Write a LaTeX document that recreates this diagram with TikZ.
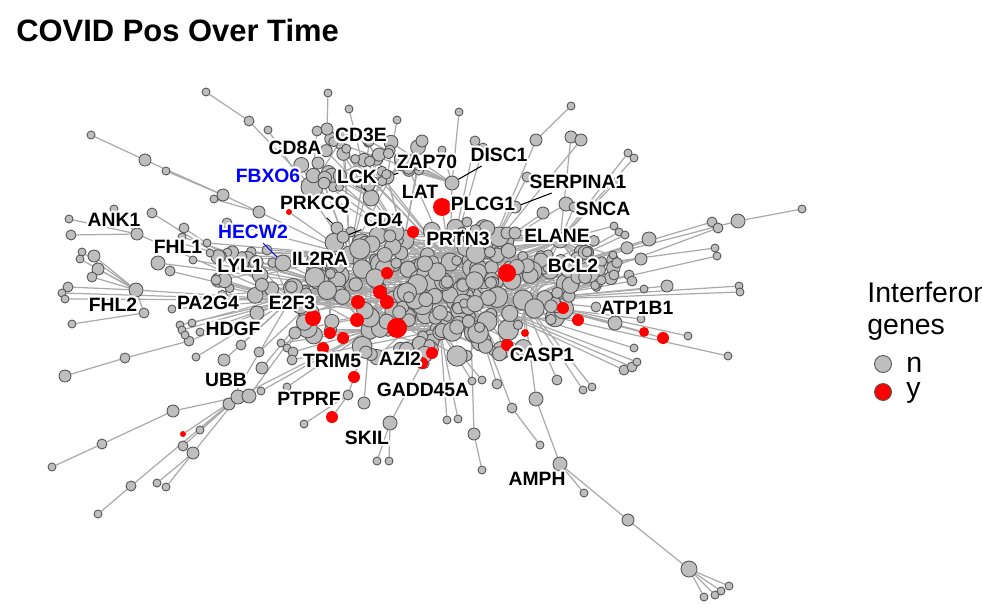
\documentclass[tikz,border=0pt]{standalone}
\usepackage{fontspec}
\setmainfont{Liberation Sans}
\usepackage{contour}
\contourlength{1.2pt}
\usetikzlibrary{backgrounds}
\definecolor{nodegray}{RGB}{190,190,190}
\definecolor{rimgray}{RGB}{85,85,85}
\definecolor{edgegray}{RGB}{170,170,170}
\definecolor{ifnred}{RGB}{255,0,0}
\definecolor{labblue}{RGB}{0,0,255}

\begin{document}
\begin{tikzpicture}[x=0.02cm, y=-0.02cm,
    gnode/.style={circle, draw=rimgray, fill=nodegray, line width=0.5pt, inner sep=0pt},
    rnode/.style={circle, fill=ifnred, inner sep=0pt},
    edge/.style={draw=edgegray, line width=0.7pt},
    lab/.style={font=\bfseries\fontsize{11}{12}\selectfont, inner sep=1pt},
    lead/.style={draw=black, line width=0.6pt},
    legtext/.style={anchor=base west, inner sep=0pt, font=\fontsize{16.2}{18}\selectfont}]
  \useasboundingbox (0,0) rectangle (982,615);
  \pgfmathsetseed{17}
  \def\uphubs{{"h1","h11","fb","lck","zap","disc","h5"}}
  \def\lefthubs{{"h6","h7","h11"}}
  \def\righthubs{{"h9","h4","h12","h3"}}

  % hubs in the core
  \foreach \n/\x/\y/\r in {h1/404/240/10, h2/370/330/9, h3/470/298/12, h4/523/300/10,
      h5/450/262/9, h6/330/285/9, h7/290/300/8, h8/490/250/9, h9/550/270/9,
      h10/440/330/10, h11/350/255/9, h12/560/240/8,
      fb/312/187/11, lck/371/198/8, zap/387/177/7, disc/452/183/7}
    \node[gnode, minimum size=\r*0.4mm] (\n) at (\x,\y) {};

  % dense core
  \foreach \i in {1,...,230}{
    \pgfmathsetmacro\ang{360*rnd}
    \pgfmathsetmacro\rad{rnd^0.65}
    \pgfmathsetmacro\cx{432+148*\rad*cos(\ang)}
    \pgfmathsetmacro\cy{292+72*\rad*sin(\ang)}
    \pgfmathsetmacro\cr{4.5+6*rnd}
    \node[gnode, minimum size=\cr*0.4mm] (c\i) at (\cx,\cy) {};
  }

  % side clusters
  \foreach \i in {1,...,45}{
    \pgfmathsetmacro\ang{360*rnd}
    \pgfmathsetmacro\rad{sqrt(rnd)}
    \pgfmathsetmacro\cx{362+68*\rad*cos(\ang)}
    \pgfmathsetmacro\cy{162+28*\rad*sin(\ang)}
    \pgfmathsetmacro\cr{4+3.5*rnd}
    \node[gnode, minimum size=\cr*0.4mm] (u\i) at (\cx,\cy) {};
  }
  \foreach \i in {1,...,18}{
    \pgfmathsetmacro\ang{360*rnd}
    \pgfmathsetmacro\rad{sqrt(rnd)}
    \pgfmathsetmacro\cx{245+40*\rad*cos(\ang)}
    \pgfmathsetmacro\cy{275+25*\rad*sin(\ang)}
    \pgfmathsetmacro\cr{4+4*rnd}
    \node[gnode, minimum size=\cr*0.4mm] (w\i) at (\cx,\cy) {};
  }
  \foreach \i in {1,...,22}{
    \pgfmathsetmacro\ang{360*rnd}
    \pgfmathsetmacro\rad{sqrt(rnd)}
    \pgfmathsetmacro\cx{605+30*\rad*cos(\ang)}
    \pgfmathsetmacro\cy{268+30*\rad*sin(\ang)}
    \pgfmathsetmacro\cr{4+3*rnd}
    \node[gnode, minimum size=\cr*0.4mm] (v\i) at (\cx,\cy) {};
  }

  % outer nodes: name/x/y/radius/neighbour
  \def\outer{a1/206/92/4/a2, a2/249/121/5/fb, a3/268/130/4/h11, a4/91/135/4/a5, a5/145/160/6/a7,
    a6/166/171/4/a7, a7/223/195/6/a9, a8/214/199/4/a9, a9/259/212/6/h11, a10/318/163/6/fb,
    b1/114/209/4/b5, b2/152/213/5/h7, b3/69/219/4/b5, b4/71/235/5/b5, b5/137/234/6/h7,
    b6/184/228/5/h7, b7/182/237/4/h6, b8/180/243/4/h6, b9/227/223/5/h11, b10/94/256/6/b14,
    b11/82/252/4/b14, b12/80/259/4/b14, b13/98/269/6/b14, b14/136/290/7/h7, b15/92/277/5/b14,
    b16/68/287/5/b14, b17/62/293/4/h7, b18/65/299/4/h7, b19/158/263/7/h6, b20/170/271/5/h7,
    b21/193/260/4/h6, b22/207/243/4/h11, b23/210/253/4/h6, b24/216/280/5/h7, b25/267/250/5/h11,
    b26/283/263/8/h6, b27/144/313/5/b14, b28/72/324/4/b27,
    d1/125/358/5/d9, d2/65/376/6/d1, d3/173/411/6/d14, d4/102/444/5/d3, d5/52/467/4/d4,
    d7/200/430/4/d14, d8/183/446/5/d14, d9/189/341/5/h7, d10/193/453/6/d14, d11/157/483/4/d10,
    d12/166/487/4/d10, d13/131/486/5/d16, d15/98/514/4/d13, d16/229/404/6/h7, d14/238/397/7/h2,
    d17/249/396/7/h6, d18/180/325/4/h7, d19/182/330/4/h7, d20/192/323/4/h6, d21/200/332/4/h7,
    d22/185/335/4/d9, d23/224/360/6/h7, d24/196/357/4/h7, d25/262/368/6/h6, d26/261/391/4/h2,
    d27/287/387/4/h2, d28/304/424/4/e3, d29/241/345/5/h7, d30/257/313/7/h6, d31/259/352/5/h6,
    d32/295/333/6/h2, d33/172/309/4/h7, d34/281/343/4/h2, d35/287/348/4/h6, d36/293/352/5/h2,
    d37/292/360/5/h10,
    e1/390/423/7/h10, e2/364/403/6/h2, e3/348/395/5/h2, e5/377/461/4/e1, e6/389/461/4/e1,
    e7/447/420/4/h10, e8/458/419/4/h10, e9/474/434/6/h3, e10/482/470/4/e9, e11/497/384/5/h3,
    e12/512/408/5/h3, e13/536/399/7/h4, e14/540/445/4/e12, amph/560/464/7/e13, e15/584/493/4/amph,
    e16/628/520/6/amph, e17/689/569/8/e16, e18/704/597/4/e17, e19/715/595/4/e17,
    e20/721/591/4/e17, e21/729/586/4/e17, e22/557/380/5/h4, e23/583/390/4/h4, e24/592/387/4/h4,
    e25/472/381/4/h10, e26/482/380/4/h10,
    f1/571/106/4/f2, f2/536/140/6/h8, f3/571/137/6/h12, f4/581/140/6/h8, f5/628/153/4/h12,
    f6/634/158/4/h12, f7/802/209/4/f8, f8/738/221/7/h9, f9/712/222/5/h9, f10/718/228/5/h4,
    f11/649/239/7/h9, f12/614/226/4/h12, f13/619/232/4/h9, f14/625/235/4/h9, f15/715/248/4/h9,
    f16/717/256/4/h4, f17/641/259/6/h9, f18/613/255/4/h12, f19/739/286/4/h4, f20/740/292/4/h4,
    f21/667/286/6/h4, f22/644/289/4/h4, f23/614/275/5/h9, f24/629/275/5/h4, f25/632/281/5/h4,
    f26/596/307/5/h4, f27/641/319/4/h3, f28/615/323/7/h4, f29/688/336/4/h4, f30/728/356/4/h3,
    f35/634/348/4/h3, f36/624/370/5/h3, f37/632/367/5/h3, f38/637/362/4/h3, f39/527/177/5/h8,
    f40/566/204/7/h8, f41/574/207/5/h12, f42/543/213/6/h8, f43/587/252/5/h9, f44/617/181/4/h12,
    g1/328/93/4/g2, g2/327/129/6/lck, g3/317/131/5/fb, g4/349/109/4/lck, g5/397/120/4/zap,
    g6/422/141/6/h1, g7/442/150/4/disc, g8/459/112/4/disc, g9/475/141/5/h5, g10/483/148/5/h5,
    g11/515/207/6/h8, g12/462/232/5/h5, g13/467/222/5/h5, g14/507/233/6/h8, g15/515/233/6/h8,
    g16/337/228/6/h1, g17/343/237/6/h11}
  \foreach \n/\x/\y/\r/\t in \outer
    \node[gnode, minimum size=\r*0.4mm] (\n) at (\x,\y) {};

  % interferon genes
  \def\ifn{d6/183/434/3/d14, a11/289/212/3/h11, e4/332/417/6/e3,
      e27/354/377/6/h2, f31/644/332/5/h4, f32/663/338/6/h4, f33/578/320/6/h3, f34/563/308/6/h4,
      r1/413/232/6/h1, r2/442/207/9/h5, r3/387/273/6/h11, r4/380/292/7/h6, r5/358/302/7/h2,
      r6/387/302/7/h3, r7/313/318/8/h7, r8/357/320/7/h2, r9/397/328/10/h10, r10/330/333/6/h6,
      r11/343/338/6/h2, r12/323/348/6/h7, r13/432/353/6/h10, r14/422/363/6/h10, r15/507/273/9/h8,
      r16/525/333/4/h4, r17/507/345/6/h3}
  \foreach \n/\x/\y/\r/\t in \ifn
    \node[rnode, minimum size=\r*0.4mm] (\n) at (\x,\y) {};

  % all edges, behind the nodes
  \begin{pgfonlayer}{background}
    \foreach \a/\b in {h1/h5, h1/h11, h3/h5, h3/h10, h4/h9, h2/h6, h6/h7, h8/h12,
        h3/h4, h2/h10, h11/h6, h5/h8, fb/h1, lck/h1, zap/h1, disc/h5}
      \draw[edge] (\a) -- (\b);
    \foreach \i in {1,...,230}{
      \pgfmathtruncatemacro\k{mod(\i*7,12)+1}
      \draw[edge] (c\i) -- (h\k);
    }
    \foreach \i in {1,...,45}{
      \pgfmathsetmacro\hb{\uphubs[mod(\i,7)]}
      \draw[edge] (u\i) -- (\hb);
    }
    \foreach \i in {1,...,18}{
      \pgfmathsetmacro\hb{\lefthubs[mod(\i,3)]}
      \draw[edge] (w\i) -- (\hb);
    }
    \foreach \i in {1,...,22}{
      \pgfmathsetmacro\hb{\righthubs[mod(\i,4)]}
      \draw[edge] (v\i) -- (\hb);
    }
    \foreach \n/\x/\y/\r/\t in \outer
      \draw[edge] (\n) -- (\t);
    \foreach \n/\x/\y/\r/\t in \ifn
      \draw[edge] (\n) -- (\t);
  \end{pgfonlayer}

  % gene labels
  \foreach \n/\x/\y in {CD8A/295/149, CD3E/361/136, ZAP70/427/163, DISC1/499/156, LCK/357/178,
      LAT/420/193, PLCG1/483/205, SERPINA1/578/183, SNCA/603/210, PRKCQ/315/206, CD4/383/221,
      PRTN3/458/240, ELANE/557/237, BCL2/573/267, IL2RA/320/260, ANK1/114/221, FHL1/178/248,
      LYL1/240/267, FHL2/113/306, PA2G4/208/304, E2F3/292/304, HDGF/233/330, UBB/226/381,
      PTPRF/309/400, TRIM5/332/362, AZI2/400/360, GADD45A/423/391, SKIL/367/439,
      CASP1/542/356, ATP1B1/637/309, AMPH/537/480}
    \node[lab] (l\n) at (\x,\y) {\contour{white}{\n}};
  \node[lab, text=labblue] (lFBXO6) at (268,177) {\contour{white}{FBXO6}};
  \node[lab, text=labblue] (lHECW2) at (253,233) {\contour{white}{HECW2}};
  \draw[lead] (lPRKCQ) -- (g16);
  \draw[lead] (lCD4) -- (g17);
  \draw[lead] (lLCK) -- (lck);
  \draw[lead] (lZAP70) -- (zap);
  \draw[lead] (lDISC1) -- (disc);
  \draw[lead] (lSERPINA1) -- (g11);
  \draw[lead] (lPRTN3) -- (g12);
  \draw[lead, labblue] (lHECW2) -- (b26);

  \node[anchor=base west, inner sep=0pt, font=\bfseries\fontsize{17.6}{20}\selectfont] (title)
    at (16,42) {COVID Pos Over Time};

  % legend
  \node[legtext] (legtitle) at (867,302) {Interferon};
  \node[legtext] (legtitle2) at (867,334) {genes};
  \node[gnode, minimum size=8.5*0.4mm] (keyn) at (883,364) {};
  \node[circle, draw=rimgray, fill=ifnred, line width=0.5pt, inner sep=0pt, minimum size=8.5*0.4mm] (keyy) at (883,392) {};
  \node[legtext] (keyntext) at (906,372) {n};
  \node[legtext] (keyytext) at (906,397) {y};
\end{tikzpicture}
\end{document}
